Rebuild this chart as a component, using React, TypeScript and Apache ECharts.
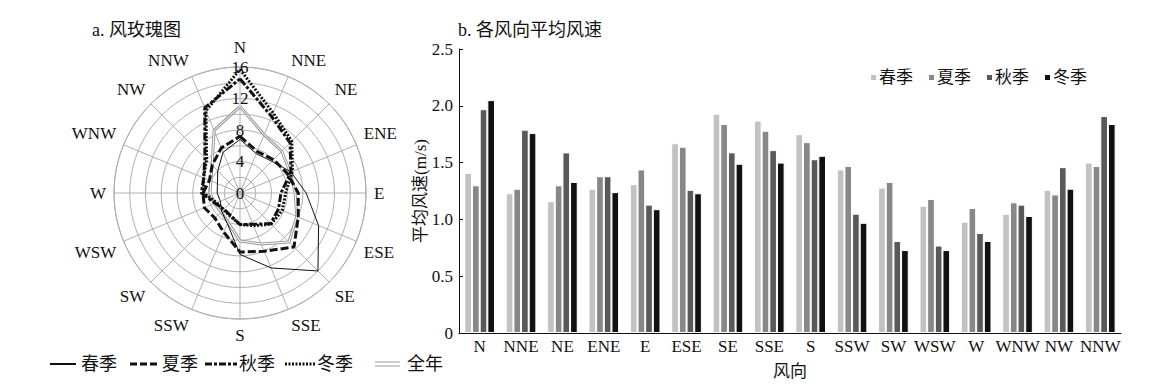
import React, { useEffect, useRef } from "react";
import * as echarts from "echarts";

// ---------- data ----------
const DIRECTIONS = ["N", "NNE", "NE", "ENE", "E", "ESE", "SE", "SSE", "S", "SSW", "SW", "WSW", "W", "WNW", "NW", "NNW"];
const SEASONS = ["春季", "夏季", "秋季", "冬季"];

// wind rose frequencies (%)
const ROSE_SPRING = [6.8, 5.4, 5.7, 7.0, 8.4, 10.8, 14.0, 10.3, 7.8, 4.2, 3.3, 2.7, 2.9, 3.1, 4.0, 5.6];
const ROSE_SUMMER = [7.2, 5.7, 6.0, 6.5, 7.4, 8.0, 9.7, 8.0, 7.5, 5.4, 4.5, 4.9, 4.7, 4.2, 5.0, 6.2];
const ROSE_AUTUMN = [14.5, 10.5, 9.0, 7.0, 5.2, 5.3, 5.5, 4.3, 4.0, 3.1, 2.9, 3.4, 4.9, 5.0, 6.3, 11.7];
const ROSE_WINTER = [15.7, 11.0, 9.3, 7.2, 5.8, 5.8, 5.6, 4.5, 4.0, 3.2, 3.0, 3.2, 4.6, 5.0, 6.0, 11.3];
const ROSE_ANNUAL = [11.0, 8.0, 7.5, 6.9, 7.0, 7.8, 8.8, 7.0, 6.1, 4.0, 3.4, 3.5, 3.8, 4.0, 5.0, 8.6];

// mean wind speed (m/s)
const SPEED_SPRING = [1.41, 1.23, 1.16, 1.27, 1.31, 1.67, 1.93, 1.87, 1.75, 1.44, 1.28, 1.12, 0.98, 1.05, 1.26, 1.50];
const SPEED_SUMMER = [1.30, 1.27, 1.30, 1.38, 1.44, 1.64, 1.84, 1.78, 1.68, 1.47, 1.33, 1.18, 1.10, 1.15, 1.22, 1.47];
const SPEED_AUTUMN = [1.97, 1.79, 1.59, 1.38, 1.13, 1.26, 1.59, 1.61, 1.53, 1.05, 0.81, 0.77, 0.88, 1.13, 1.46, 1.91];
const SPEED_WINTER = [2.05, 1.76, 1.33, 1.24, 1.09, 1.23, 1.49, 1.50, 1.56, 0.97, 0.73, 0.73, 0.81, 1.03, 1.27, 1.84];

const RADIUS_TICKS = [0, 4, 8, 12, 16];
const SPEED_TICKS = ["0", "0.5", "1.0", "1.5", "2.0", "2.5"];

const FONT = "'Liberation Serif', 'Times New Roman', 'Noto Sans CJK SC', serif";
const BAR_COLORS = ["#c2c2c2", "#878787", "#595959", "#111111"];

const STEP = 360 / DIRECTIONS.length;
const toPolar = (vals: number[]) => {
  const pts = vals.map((v, i) => [v, i * STEP]);
  pts.push([vals[0], 360]);
  return pts;
};

export default function App() {
  const ref = useRef<HTMLDivElement>(null);
  useEffect(() => {
    if (!ref.current) return;
    const chart = echarts.init(ref.current, undefined, { renderer: "svg" });

    const roseLine = (name: string, vals: number[], style: any, z = 3) => ({
      type: "line",
      name,
      coordinateSystem: "polar",
      data: toPolar(vals),
      symbol: "none",
      lineStyle: style,
      z,
      silent: true,
    });

    const legendY = 364;
    const lt = (x: number, text: string) => ({
      type: "text",
      x,
      y: legendY,
      style: { text, font: `18px ${FONT}`, fill: "#111", verticalAlign: "middle" },
    });
    const ll = (x1: number, x2: number, dy: number, stroke: string, lineWidth: number, lineDash?: number[]) => ({
      type: "line",
      shape: { x1, y1: legendY + dy, x2, y2: legendY + dy },
      style: { stroke, lineWidth, lineDash },
    });

    chart.setOption({
      animation: false,
      textStyle: { fontFamily: FONT },
      polar: { center: [240, 193], radius: 126 },
      angleAxis: {
        type: "value",
        min: 0,
        max: 360,
        interval: STEP,
        startAngle: 90,
        clockwise: true,
        axisLine: { lineStyle: { color: "#a8a8a8", width: 1 } },
        axisTick: { show: false },
        axisLabel: {
          margin: 8,
          color: "#111",
          fontSize: 17,
          fontFamily: FONT,
          formatter: (v: number) => {
            const d = DIRECTIONS[Math.round(v / STEP) % DIRECTIONS.length];
            return d === "N" ? `{top|${d}}` : d;
          },
          rich: { top: { fontSize: 17, fontFamily: FONT, color: "#111", padding: [0, 0, 3, 0] } },
        },
        splitLine: { show: true, lineStyle: { color: "#b0b0b0", width: 1 } },
      },
      radiusAxis: {
        type: "value",
        min: 0,
        max: 16,
        interval: 2,
        axisLine: { show: false },
        axisTick: { show: false },
        axisLabel: {
          margin: 0,
          align: "center",
          padding: [0, 0, 6, 0],
          color: "#111",
          fontSize: 17,
          fontFamily: FONT,
          formatter: (v: number) => (RADIUS_TICKS.includes(v) ? String(v) : ""),
        },
        splitLine: { show: true, lineStyle: { color: "#b0b0b0", width: 1 } },
        z: 1,
      },
      grid: { left: 459, right: 32, top: 49, bottom: 56 },
      xAxis: {
        type: "category",
        data: DIRECTIONS,
        name: "风向",
        nameLocation: "middle",
        nameGap: 30,
        nameTextStyle: { fontSize: 17, color: "#111", fontFamily: FONT },
        axisLine: { lineStyle: { color: "#111", width: 1 } },
        axisTick: { show: false },
        axisLabel: { interval: 0, margin: 5, fontSize: 17, color: "#111", fontFamily: FONT },
      },
      yAxis: {
        type: "value",
        min: 0,
        max: 2.5,
        interval: 0.5,
        name: "平均风速(m/s)",
        nameLocation: "middle",
        nameGap: 30,
        nameMoveOverlap: false,
        nameTextStyle: { fontSize: 17, color: "#111", fontFamily: FONT },
        axisLine: { show: true, lineStyle: { color: "#111", width: 1 } },
        axisTick: { show: true, inside: true, length: 4, lineStyle: { color: "#111" } },
        splitLine: { show: false },
        axisLabel: {
          margin: 6,
          fontSize: 17,
          color: "#111",
          fontFamily: FONT,
          formatter: (v: number) => SPEED_TICKS[Math.round(v / 0.5)],
        },
      },
      legend: {
        data: SEASONS,
        left: 864,
        top: 64,
        icon: "rect",
        itemWidth: 7,
        itemHeight: 7,
        itemGap: 14,
        textStyle: { fontSize: 17, color: "#111", fontFamily: FONT, padding: [0, 0, 0, -3] },
      },
      series: [
        roseLine("全年a", ROSE_ANNUAL, { color: "#9a9a9a", width: 3 }, 2),
        roseLine("全年b", ROSE_ANNUAL, { color: "#ffffff", width: 1 }, 2),
        roseLine("春季r", ROSE_SPRING, { color: "#111", width: 1 }),
        roseLine("夏季r", ROSE_SUMMER, { color: "#111", width: 3, type: [8, 3] }),
        roseLine("秋季r", ROSE_AUTUMN, { color: "#111", width: 3, type: [8, 2, 3, 2] }),
        roseLine("冬季r", ROSE_WINTER, { color: "#111", width: 3, type: [2, 1.5] }),
        ...SEASONS.map((s, i) => ({
          type: "bar",
          name: s,
          data: [SPEED_SPRING, SPEED_SUMMER, SPEED_AUTUMN, SPEED_WINTER][i],
          barGap: "0%",
          barCategoryGap: "26%",
          itemStyle: { color: BAR_COLORS[i], borderColor: "#fff", borderWidth: 1 },
          silent: true,
        })),
      ],
      graphic: [
        { type: "text", x: 92, y: 30, style: { text: "a. 风玫瑰图", font: `18px ${FONT}`, fill: "#111", verticalAlign: "middle" } },
        { type: "text", x: 458, y: 30, style: { text: "b. 各风向平均风速", font: `18px ${FONT}`, fill: "#111", verticalAlign: "middle" } },
        ll(50, 76, 0, "#111", 2),
        lt(81, "春季"),
        ll(130, 160, 0, "#111", 3, [7, 3]),
        lt(162, "夏季"),
        ll(205, 237, 0, "#111", 3, [7, 2, 3, 2]),
        lt(239, "秋季"),
        ll(285, 315, 0, "#111", 3, [2, 1.5]),
        lt(317, "冬季"),
        ll(375, 400, -2, "#9a9a9a", 1),
        ll(375, 400, 2, "#9a9a9a", 1),
        lt(407, "全年"),
      ],
    });
    return () => chart.dispose();
  }, []);
  return <div ref={ref} style={{ position: "absolute", left: 0, top: 0, width: 1153, height: 389 }} />;
}
